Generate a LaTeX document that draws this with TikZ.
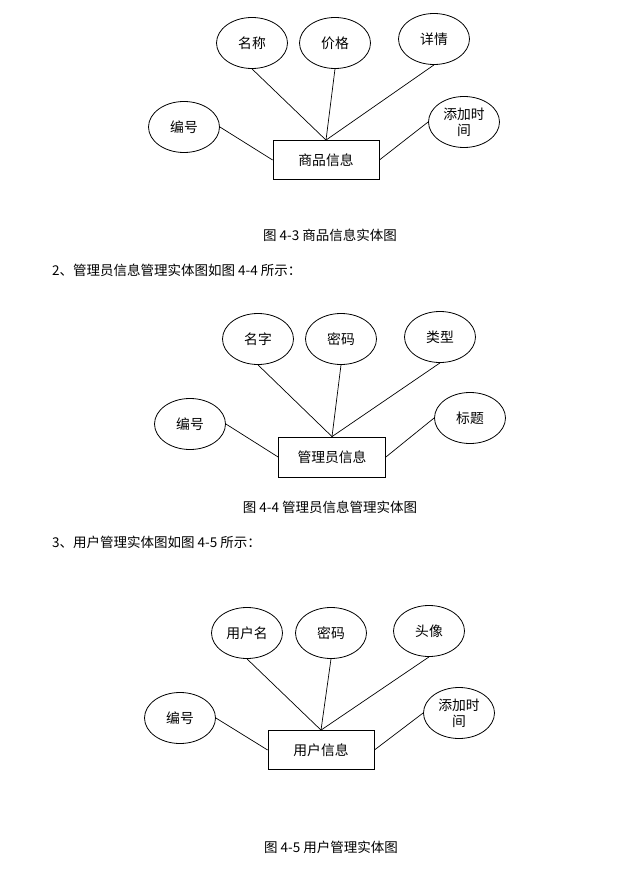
\documentclass[tikz,border=0pt]{standalone}
\usepackage{fontspec}
\setmainfont{Noto Sans CJK SC}
\usepackage{tikz}
\usetikzlibrary{shapes.geometric}

\begin{document}
\begin{tikzpicture}[x=1pt,y=-1pt,
    attr/.style={ellipse,draw=black,line width=0.8pt,minimum width=71pt,
        minimum height=51pt,inner sep=0pt,align=center,
        font=\fontsize{13.8}{16}\selectfont},
    ent/.style={rectangle,draw=black,line width=0.8pt,minimum width=106pt,
        minimum height=39pt,font=\fontsize{13.8}{16}\selectfont},
    txt/.style={inner sep=0pt,font=\fontsize{13.5}{16}\selectfont},
    link/.style={-,line width=0.7pt,black}]

    \fill[white] (0,0) rectangle (633,877);
    \useasboundingbox (0,0) rectangle (633,877);

    % goods entity
        \node[ent] (g-ent) at (326,160) {商品信息};
        \node[attr] (g-name) at (252,43) {名称};
        \node[attr] (g-price) at (335,43) {价格};
        \node[attr] (g-detail) at (434,39) {详情};
        \node[attr] (g-id) at (184,127) {编号};
        \node[attr] (g-time) at (464,122) {添加时\\间};
    % goods links
    \draw[link] (g-name.south) -- (g-ent.north);
    \draw[link] (g-price.south) -- (g-ent.north);
    \draw[link] (g-detail.south) -- (g-ent.north);
    \draw[link] (g-id.east) -- (g-ent.west);
    \draw[link] (g-time.west) -- (g-ent.east);
    \node[txt] (g-cap) at (330,235) {图 4-3 商品信息实体图};

    \node[txt,anchor=west] (a-intro) at (52,270) {2、管理员信息管理实体图如图 4-4 所示：};

    % admin entity
        \node[ent,minimum width=107pt,minimum height=40pt] (a-ent) at (332,457) {管理员信息};
        \node[attr] (a-name) at (258,339) {名字};
        \node[attr] (a-pwd) at (341,339) {密码};
        \node[attr] (a-type) at (440,337) {类型};
        \node[attr] (a-id) at (190,424) {编号};
        \node[attr] (a-title) at (470,418) {标题};
    % admin links
    \draw[link] (a-name.south) -- (a-ent.north);
    \draw[link] (a-pwd.south) -- (a-ent.north);
    \draw[link] (a-type.south) -- (a-ent.north);
    \draw[link] (a-id.east) -- (a-ent.west);
    \draw[link] (a-title.west) -- (a-ent.east);
    \node[txt] (a-cap) at (330,507) {图 4-4 管理员信息管理实体图};

    \node[txt,anchor=west] (u-intro) at (52,542) {3、用户管理实体图如图 4-5 所示：};

    % user entity
        \node[ent] (u-ent) at (321,750) {用户信息};
        \node[attr] (u-name) at (247,633) {用户名};
        \node[attr] (u-pwd) at (331,633) {密码};
        \node[attr] (u-avatar) at (429,631) {头像};
        \node[attr] (u-id) at (180,718) {编号};
        \node[attr] (u-time) at (459,713) {添加时\\间};
    % user links
    \draw[link] (u-name.south) -- (u-ent.north);
    \draw[link] (u-pwd.south) -- (u-ent.north);
    \draw[link] (u-avatar.south) -- (u-ent.north);
    \draw[link] (u-id.east) -- (u-ent.west);
    \draw[link] (u-time.west) -- (u-ent.east);
    \node[txt] (u-cap) at (331,847) {图 4-5 用户管理实体图};

\end{tikzpicture}
\end{document}
